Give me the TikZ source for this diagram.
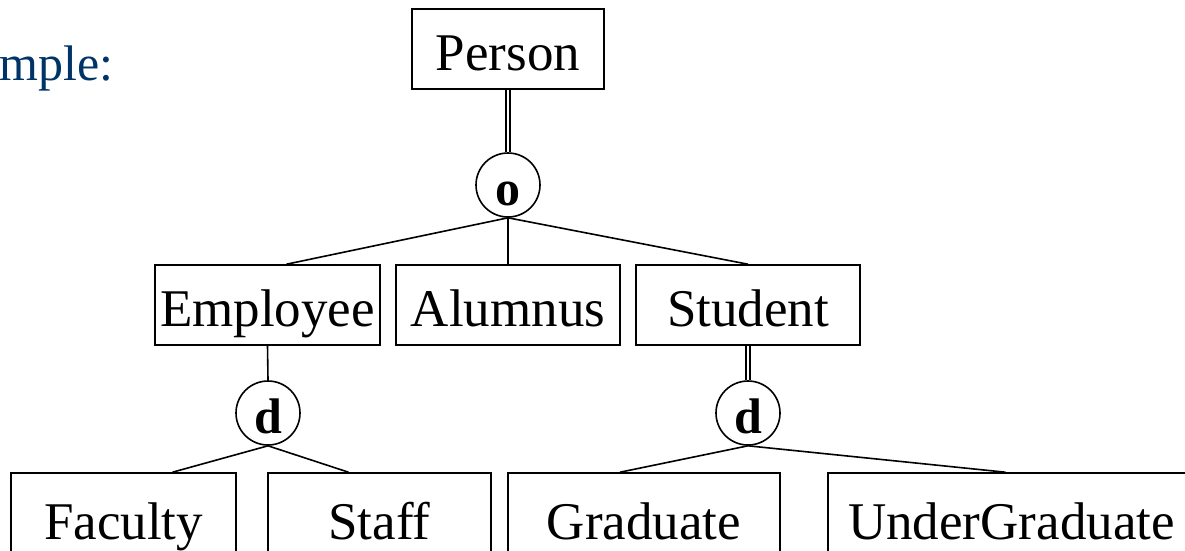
\documentclass[tikz,border=0pt]{standalone}
\usepackage{fontspec}
\setmainfont{Liberation Serif}
\definecolor{slideblue}{RGB}{0,51,102}
\begin{document}
\begin{tikzpicture}[x=1pt,y=-1pt,
  line width=1.6pt,
  entity/.style={draw, rectangle, inner sep=0pt, minimum height=80pt,
    text height=42pt, text depth=0pt,
    font=\fontsize{53}{60}\selectfont},
  lowentity/.style={entity, minimum height=90pt},
  spec/.style={draw, circle, inner sep=0pt, minimum size=64pt,
    text height=40pt, text depth=0pt,
    font=\fontsize{50}{56}\selectfont\bfseries},
  total/.style={double, double distance=2.6pt, line width=1.3pt},
  partial/.style={line width=1.6pt}]
\useasboundingbox (0,0) rectangle (1185,550);
\clip (0,0) rectangle (1185,550);

% heading fragment
\node[anchor=base west, inner sep=0pt, text=slideblue,
  font=\fontsize{50}{56}\selectfont] (heading) at (-1,80) {mple:};

% superclass and overlapping specialization
\node[entity, minimum width=192pt] (person) at (508,49) {Person};
\node[spec] (ovl) at (508,185) {o};

% first level subclasses
\node[entity, minimum width=225pt] (employee) at (267.5,305) {Employee};
\node[entity, minimum width=224pt] (alumnus) at (508,305) {Alumnus};
\node[entity, minimum width=224pt] (student) at (748,305) {Student};

% disjoint specializations
\node[spec] (dEmp) at (268,413) {d};
\node[spec] (dStu) at (748,413) {d};

% second level subclasses
\node[lowentity, minimum width=225pt] (faculty) at (123.5,518) {Faculty};
\node[lowentity, minimum width=223pt] (staff) at (379.5,518) {Staff};
\node[lowentity, minimum width=272pt] (graduate) at (644,518) {Graduate};
\node[lowentity, minimum width=367pt] (undergrad) at (1011.5,518) {UnderGraduate};

% connectors
\draw[total] (person.south) -- (ovl.north);
\draw[partial] (ovl.south) -- ([xshift=19pt]employee.north);
\draw[partial] (ovl.south) -- (alumnus.north);
\draw[partial] (ovl.south) -- (student.north);

\draw[partial] (employee.south) -- (dEmp.north);
\draw[total] (student.south) -- (dStu.north);

\draw[partial] (dEmp.south) -- ([xshift=49pt]faculty.north);
\draw[partial] (dEmp.south) -- ([xshift=-31pt]staff.north);
\draw[partial] (dStu.south) -- ([xshift=-24pt]graduate.north);
\draw[partial] (dStu.south) -- ([xshift=-6pt]undergrad.north);
\end{tikzpicture}
\end{document}
